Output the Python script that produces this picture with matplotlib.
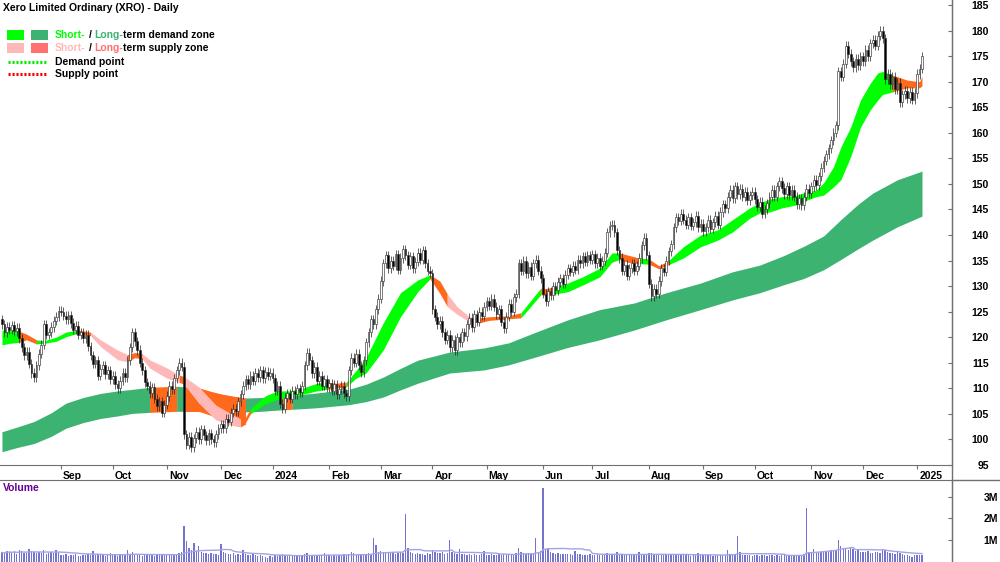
import numpy as np
import pandas as pd
import matplotlib
matplotlib.use("Agg")
import matplotlib.pyplot as plt
from matplotlib.lines import Line2D
from matplotlib.patches import Rectangle
from matplotlib.transforms import ScaledTranslation

plt.rcParams['font.family'] = ['Liberation Sans', 'DejaVu Sans']
plt.rcParams['font.weight'] = 'bold'
plt.rcParams['font.size'] = 7.5

# daily closes (first bar = 31 Jul 2023)
aug23 = [122.5, 121.0, 122.0, 121.5, 122.3, 121.2, 121.8, 119.8, 118.0, 116.5, 117.2, 114.8,
         113.0, 112.2, 114.5, 116.8, 118.5, 122.5, 120.5, 121.0, 122.0, 123.2, 124.0, 125.2]
sep23 = [125.0, 124.2, 123.5, 124.3, 122.8, 121.5, 122.2, 120.5, 121.0, 119.8, 120.5, 118.2,
         116.5, 114.8, 115.5, 112.5, 113.8, 114.5, 112.8, 113.5, 111.8]
oct23 = [112.5, 110.8, 110.0, 111.5, 113.0, 112.2, 115.5, 118.0, 121.0, 119.2, 117.5, 115.0,
         113.5, 111.2, 110.5, 109.0, 110.2, 108.0, 106.5, 107.5, 105.2, 106.8]
nov23 = [108.5, 110.5, 109.8, 112.0, 113.5, 115.0, 114.2, 101.0, 99.0, 100.5, 98.5, 100.2,
         101.5, 100.0, 102.0, 100.8, 99.8, 101.2, 100.0, 99.5, 101.0, 102.2]
dec23 = [103.0, 102.2, 104.0, 103.5, 105.2, 106.0, 105.5, 107.5, 108.8, 110.5, 111.8, 110.8,
         112.5, 111.5, 113.0, 112.2, 113.5, 112.0, 113.2, 112.5, 113.0]
jan24 = [112.0, 109.5, 110.5, 107.0, 106.0, 108.2, 109.0, 108.0, 109.5, 108.8, 110.0, 109.2,
         110.5, 114.5, 117.0, 115.5, 113.0, 114.2, 111.5, 112.5, 110.5, 111.8, 110.2]
feb24 = [111.0, 109.5, 110.8, 108.8, 109.8, 110.5, 109.0, 108.5, 113.5, 116.0, 115.0, 116.8,
         114.5, 113.2, 115.5, 119.0, 121.0, 123.5, 122.5, 125.5, 127.5]
mar24 = [131.0, 134.5, 136.0, 133.5, 135.0, 134.0, 136.2, 133.2, 135.5, 137.2, 136.0, 134.2,
         135.8, 133.5, 134.8, 136.5, 135.2, 137.0, 134.5, 133.0, 132.5]
apr24 = [125.5, 124.0, 122.5, 123.2, 121.0, 119.5, 120.5, 118.0, 119.5, 117.5, 120.0, 119.0,
         121.0, 120.2, 122.5, 123.8, 122.0, 124.5, 123.0, 125.0, 124.2, 126.0]
may24 = [127.0, 126.2, 127.5, 126.0, 124.5, 125.5, 123.0, 121.8, 124.0, 126.5, 125.0, 127.8,
         128.5, 134.5, 133.0, 135.0, 132.5, 133.8, 132.0, 134.5, 135.2, 133.0, 131.5]
jun24 = [128.5, 127.0, 129.0, 128.2, 130.0, 129.2, 130.8, 131.5, 130.5, 132.2, 133.5, 132.8,
         134.0, 133.2, 135.2, 134.5, 135.8, 134.8, 136.0, 135.2]
jul24 = [136.2, 134.5, 135.5, 134.0, 135.0, 136.5, 140.5, 141.8, 142.0, 140.5, 137.0, 135.5,
         133.0, 134.2, 132.0, 133.5, 134.5, 133.0, 134.0, 135.5, 138.0, 139.5, 136.0]
aug24 = [130.5, 128.0, 129.5, 128.5, 131.0, 133.5, 132.8, 135.0, 136.8, 138.2, 141.5, 143.5,
         142.8, 144.2, 143.0, 142.0, 143.5, 141.8, 142.5, 143.8, 141.5, 142.2]
sep24 = [140.8, 141.5, 143.0, 141.2, 142.5, 143.8, 142.0, 144.5, 146.0, 145.2, 147.5, 148.8,
         147.2, 149.5, 148.0, 149.0, 147.5, 148.5, 146.8, 147.8, 148.5]
oct24 = [147.0, 145.5, 146.5, 144.2, 145.0, 146.2, 147.5, 148.8, 147.5, 149.5, 150.5, 149.2,
         148.0, 149.5, 147.8, 148.8, 147.5, 146.0, 147.2, 145.8, 147.5, 149.0, 148.2]
nov24 = [149.5, 150.8, 149.8, 151.5, 153.2, 154.5, 155.8, 157.0, 158.5, 160.0, 161.5, 172.0,
         171.0, 173.5, 177.0, 175.5, 174.0, 172.8, 174.5, 173.2, 175.0]
dec24 = [174.0, 176.2, 175.0, 177.5, 178.2, 177.0, 179.0, 180.0, 178.5, 170.5, 171.5, 169.5,
         171.0, 168.5, 169.8, 166.0, 167.5, 168.2, 166.8, 168.0, 166.5, 167.8]
jan25 = [171.5, 172.5, 175.0]
first_open = 123.5

# daily volume, thousands of shares
vol_aug23 = [420, 380, 510, 450, 390, 470, 360, 520, 480, 410, 390, 560, 470, 430, 380, 450,
             400, 520, 360, 410, 440, 390, 550, 420]
vol_sep23 = [300, 280, 350, 260, 310, 290, 330, 270, 250, 310, 290, 340, 300, 480, 320, 350,
             290, 310, 270, 330, 380]
vol_oct23 = [290, 310, 260, 330, 280, 300, 540, 350, 420, 310, 290, 320, 270, 300, 340, 280,
             310, 260, 350, 300, 290, 320]
vol_nov23 = [330, 300, 290, 320, 350, 380, 420, 1650, 950, 620, 540, 850, 480, 700, 450, 380,
             410, 350, 390, 330, 360, 310]
vol_dec23 = [800, 420, 380, 350, 330, 390, 310, 360, 290, 550, 340, 310, 290, 330, 280, 260,
             300, 240, 220, 180, 250]
vol_jan24 = [230, 280, 260, 310, 350, 290, 270, 300, 250, 280, 310, 260, 290, 340, 380, 300,
             270, 290, 260, 310, 280, 400, 300]
vol_feb24 = [290, 270, 310, 260, 300, 280, 330, 290, 350, 420, 380, 320, 300, 340, 310, 360,
             390, 330, 1100, 750, 420]
vol_mar24 = [480, 420, 390, 450, 380, 410, 360, 400, 430, 380, 2200, 650, 420, 380, 350, 390,
             340, 360, 320, 380, 350]
vol_apr24 = [520, 450, 400, 380, 420, 360, 390, 1000, 420, 380, 350, 600, 340, 370, 320, 350,
             300, 330, 310, 290, 340, 500]
vol_may24 = [320, 300, 340, 290, 310, 330, 280, 350, 300, 320, 290, 340, 380, 620, 450, 400,
             360, 380, 340, 390, 1100, 420, 480]
vol_jun24 = [3400, 520, 650, 420, 380, 360, 400, 350, 330, 370, 340, 360, 310, 500, 330, 350,
             300, 320, 290, 340]
vol_jul24 = [310, 290, 330, 300, 280, 320, 380, 350, 330, 300, 420, 340, 320, 290, 310, 280,
             300, 330, 290, 450, 350, 320, 300]
vol_aug24 = [380, 400, 350, 320, 340, 310, 290, 330, 300, 280, 350, 320, 300, 290, 310, 280,
             300, 270, 290, 310, 400, 300]
vol_sep24 = [290, 310, 280, 300, 270, 290, 320, 300, 280, 310, 550, 330, 300, 350, 1200, 420,
             310, 290, 280, 300, 270]
vol_oct24 = [280, 300, 270, 290, 310, 260, 280, 300, 270, 290, 250, 280, 300, 260, 290, 270,
             280, 310, 290, 300, 350, 2500, 420]
vol_nov24 = [380, 600, 400, 420, 450, 480, 500, 460, 520, 550, 550, 1000, 700, 650, 600, 550,
             680, 600, 480, 520, 450]
vol_dec24 = [450, 420, 480, 400, 380, 420, 450, 400, 600, 520, 450, 400, 380, 350, 420, 380,
             350, 320, 300, 250, 220, 280]
vol_jan25 = [300, 280, 320]

# long-term zone edges (bar number, upper, lower)
long_i = [0, 6, 13, 20, 26, 33, 40, 47, 53, 60, 71, 74, 87, 99, 105, 114, 118, 128, 141, 148,
          155, 162, 169, 182, 196, 206, 216, 230, 243, 257, 270, 284, 297, 308, 318, 326, 334,
          341, 348, 354, 364, 374]
long_hi = [101.5, 102.4, 103.5, 105.2, 107.1, 108.2, 109.0, 109.5, 109.8, 110.2, 110.4, 110.3,
           109.0, 108.1, 108.2, 108.3, 108.6, 109.1, 109.8, 110.8, 112.2, 113.9, 115.5, 117.1,
           117.9, 118.9, 120.8, 123.4, 125.4, 126.7, 128.7, 130.6, 132.8, 134.1, 136.0, 137.8,
           139.8, 143.0, 146.0, 148.2, 150.8, 152.5]
long_lo = [97.6, 98.4, 99.2, 100.6, 102.2, 103.3, 104.1, 104.6, 105.1, 105.3, 105.5, 105.5,
           105.5, 105.4, 105.5, 105.8, 105.9, 106.2, 106.8, 107.4, 108.3, 109.7, 111.0, 113.0,
           113.6, 114.6, 116.0, 118.0, 119.5, 121.4, 123.4, 125.4, 127.3, 128.7, 130.3, 131.5,
           133.2, 135.2, 137.3, 139.0, 141.6, 143.7]
long_breaks = [0, 60, 71, 74, 99, 114, 118, 374]
long_state = ['demand', 'supply', 'demand', 'supply', 'demand', 'supply', 'demand']

# supply area where the short zone sinks under the long zone (Nov-Dec 2023)
overlap_i = [74, 80, 85, 90, 94, 97, 99]
overlap_hi = [110.3, 110.1, 109.4, 108.8, 108.4, 108.1, 108.1]
overlap_lo = [105.5, 105.5, 104.7, 103.4, 102.8, 102.5, 103.0]

# short-term zone edges
short_i = [0, 3, 7, 10, 14, 17, 22, 26, 31, 36, 40, 47, 51, 54, 57, 60, 67, 72, 74, 80,
           87, 94, 97, 99, 101, 107, 112, 117, 122, 128, 132, 136, 140, 144, 148, 155, 162, 169,
           174, 178, 181, 185, 190, 194, 198, 206, 211, 219, 221, 224, 230, 236, 243, 248, 251,
           255, 259, 263, 267, 271, 277, 284, 291, 297, 304, 308, 312, 317, 323, 327, 331, 334,
           338, 341, 345, 349, 353, 356, 358, 362, 368, 373, 374]
short_hi = [121.4, 121.3, 121.2, 120.6, 119.5, 119.3, 120.0, 121.0, 121.4, 121.0, 119.5, 117.5,
            116.6, 117.0, 116.8, 115.6, 114.0, 112.6, 112.3, 110.3, 106.7, 104.8, 104.0, 104.3,
            106.0, 108.5, 109.5, 109.5, 110.0, 111.0, 111.2, 111.0, 111.2, 113.5, 116.0, 122.8,
            128.7, 131.2, 132.2, 131.0, 128.5, 126.0, 124.0, 123.8, 124.0, 124.2, 124.8, 129.6,
            129.5, 129.8, 130.6, 131.8, 133.5, 136.5, 136.5, 136.0, 135.5, 135.3, 134.0, 135.0,
            137.7, 140.0, 141.0, 143.0, 145.3, 146.3, 147.0, 147.5, 147.8, 148.4, 148.8, 150.2,
            153.3, 157.2, 161.1, 166.4, 169.7, 171.7, 172.0, 171.3, 170.3, 170.0, 171.0]
short_lo = [118.5, 118.8, 119.0, 119.5, 118.7, 118.8, 119.2, 120.1, 120.8, 120.3, 118.2, 115.6,
            115.2, 116.0, 115.8, 114.0, 112.0, 111.2, 110.8, 107.1, 103.8, 102.8, 102.5, 103.3,
            105.0, 107.0, 107.8, 108.5, 108.8, 109.5, 109.8, 110.1, 110.3, 112.0, 113.0, 117.5,
            124.0, 128.9, 131.4, 128.6, 126.0, 124.5, 123.0, 122.8, 123.3, 123.6, 123.8, 128.3,
            128.2, 128.4, 128.9, 130.2, 131.8, 134.7, 135.2, 134.6, 134.4, 134.3, 133.4, 134.2,
            135.5, 137.7, 139.0, 140.6, 143.3, 144.3, 144.5, 145.3, 145.9, 146.8, 147.5, 147.8,
            149.4, 150.8, 155.3, 161.1, 164.5, 166.4, 167.5, 168.0, 168.8, 168.8, 169.2]
short_breaks = [0, 7, 14, 31, 36, 51, 57, 72, 74, 97, 101, 132, 140, 174, 181, 194, 211, 219,
                224, 251, 259, 263, 271, 362, 374]
short_state = ['demand', 'turn', 'demand', 'turn', 'supply', 'turn', 'supply', 'turn', 'supply',
               'turn', 'demand', 'turn', 'demand', 'turn', 'supply', 'turn', 'demand', 'turn',
               'demand', 'turn', 'demand', 'turn', 'demand', 'turn']

close = np.array(aug23 + sep23 + oct23 + nov23 + dec23 + jan24 + feb24 + mar24 + apr24 + may24
                 + jun24 + jul24 + aug24 + sep24 + oct24 + nov24 + dec24 + jan25)
volume = np.array(vol_aug23 + vol_sep23 + vol_oct23 + vol_nov23 + vol_dec23 + vol_jan24
                  + vol_feb24 + vol_mar24 + vol_apr24 + vol_may24 + vol_jun24 + vol_jul24
                  + vol_aug24 + vol_sep24 + vol_oct24 + vol_nov24 + vol_dec24 + vol_jan25) * 1000.0
dates = pd.bdate_range("2023-07-31", periods=len(close))
idx = np.arange(len(close))
opens = np.r_[first_open, close[:-1]]

GREEN = '#00FF00'
SEA = '#3CB371'
PINK = '#FFB8B8'
RED = '#FF7070'
ORANGE = '#FF691C'
zone_col = {'demand': GREEN, 'turn': ORANGE, 'supply': PINK}
long_col = {'demand': SEA, 'supply': ORANGE}
AXC = '#707070'

W, H = 1000, 562
fig = plt.figure(figsize=(W / 100, H / 100), dpi=100)
ax = fig.add_axes([0, 1 - 465 / H, 952 / W, 465 / H])
axv = fig.add_axes([0, 0, 952 / W, 82 / H])

# long-term zone
li, lh, ll = np.array(long_i), np.array(long_hi), np.array(long_lo)
for a, b, s in zip(long_breaks[:-1], long_breaks[1:], long_state):
    m = (li >= a) & (li <= b)
    ax.fill_between(li[m], lh[m], ll[m], color=long_col[s], lw=0, zorder=1)
ax.fill_between(overlap_i, overlap_hi, overlap_lo, color=ORANGE, lw=0, zorder=1)

# short-term zone
si, sh, sl = np.array(short_i), np.array(short_hi), np.array(short_lo)
for a, b, s in zip(short_breaks[:-1], short_breaks[1:], short_state):
    m = (si >= a) & (si <= b)
    ax.fill_between(si[m], sh[m], sl[m], color=zone_col[s], lw=0, zorder=2)

# candles
up = close >= opens
body_lo = np.minimum(opens, close)
body_h = np.maximum(np.abs(close - opens), 0.2)
wick = 0.9
ax.vlines(idx, body_lo - wick, body_lo + body_h + wick, color='#222222', lw=0.5, zorder=3)
ax.bar(idx, body_h, bottom=body_lo, width=0.72, color=np.where(up, 'white', 'black'),
       edgecolor='#333333', linewidth=0.45, zorder=4)

ax.set_xlim(-0.8, 386.2)
ax.set_ylim(95, 185.98)
for s in ['top', 'left']:
    ax.spines[s].set_visible(False)
for s in ['bottom', 'right']:
    ax.spines[s].set_color(AXC)
ax.yaxis.tick_right()
ax.set_yticks(np.arange(95, 186, 5))
ax.tick_params(axis='y', direction='in', length=3, pad=26.5, colors='black', color=AXC)
for lab in ax.get_yticklabels():
    lab.set_horizontalalignment('right')

# month marks (the first, partial month is left unlabelled)
mstart = [i for i in range(1, len(dates)) if dates[i].month != dates[i - 1].month][1:]
mlabels = [str(dates[i].year) if dates[i].month == 1 else dates[i].strftime('%b') for i in mstart]
ax.set_xticks(mstart)
ax.set_xticklabels(mlabels)
ax.tick_params(axis='x', direction='out', length=3, pad=1.5, color=AXC)
off = ScaledTranslation(1.5 / 72, 0, fig.dpi_scale_trans)
for lab in ax.get_xticklabels():
    lab.set_horizontalalignment('left')
    lab.set_transform(lab.get_transform() + off)

# volume
vma = pd.Series(volume).rolling(20, min_periods=1).mean()
axv.bar(idx, volume, width=0.55, color='#7474CF', lw=0)
axv.plot(idx, vma, color='#A3A3E6', lw=1)
axv.set_xlim(-0.8, 386.2)
axv.set_ylim(-0.023e6, 3.79e6)
for s in ['left', 'bottom']:
    axv.spines[s].set_visible(False)
for s in ['top', 'right']:
    axv.spines[s].set_color(AXC)
axv.set_xticks([])
axv.yaxis.tick_right()
axv.set_yticks([1e6, 2e6, 3e6])
axv.set_yticklabels(['1M', '2M', '3M'])
axv.tick_params(axis='y', direction='in', length=3, pad=33, color=AXC)
for lab in axv.get_yticklabels():
    lab.set_horizontalalignment('right')

fig.add_artist(Line2D([952 / W, 952 / W], [0, 1], transform=fig.transFigure, color=AXC, lw=1))
fig.add_artist(Line2D([952 / W, 1], [82 / H, 82 / H], transform=fig.transFigure, color=AXC, lw=1))


def fy(y):
    return 1 - y / H


fig.text(3 / W, fy(8), 'Xero Limited Ordinary (XRO) - Daily', va='center', ha='left')
fig.text(3 / W, fy(488), 'Volume', color='#660099', va='center', ha='left')

# legend
for (x0, y0, c) in [(7, 30, GREEN), (31, 30, SEA), (7, 43, PINK), (31, 43, RED)]:
    fig.add_artist(Rectangle((x0 / W, fy(y0 + 10)), 17 / W, 10 / H, transform=fig.transFigure,
                             color=c, lw=0))
for (y0, c) in [(62, '#00EE00'), (74, '#FF0000')]:
    fig.add_artist(Line2D([8 / W, 47 / W], [fy(y0), fy(y0)], transform=fig.transFigure, color=c,
                          lw=2.2, linestyle=(0, (0.7, 0.6)), solid_capstyle='butt'))

renderer = fig.canvas.get_renderer()


def pieces(x, y, parts):
    for s, c, gap in parts:
        t = fig.text(x / W, fy(y), s, color=c, va='center', ha='left')
        x += t.get_window_extent(renderer).width + gap


pieces(55, 35, [('Short-', GREEN, 3), ('/', 'black', 3), ('Long-', SEA, 0),
                ('term demand zone', 'black', 0)])
pieces(55, 48, [('Short-', PINK, 3), ('/', 'black', 3), ('Long-', RED, 0),
                ('term supply zone', 'black', 0)])
pieces(55, 62, [('Demand point', 'black', 0)])
pieces(55, 74, [('Supply point', 'black', 0)])

fig.savefig('out.png', dpi=100)
